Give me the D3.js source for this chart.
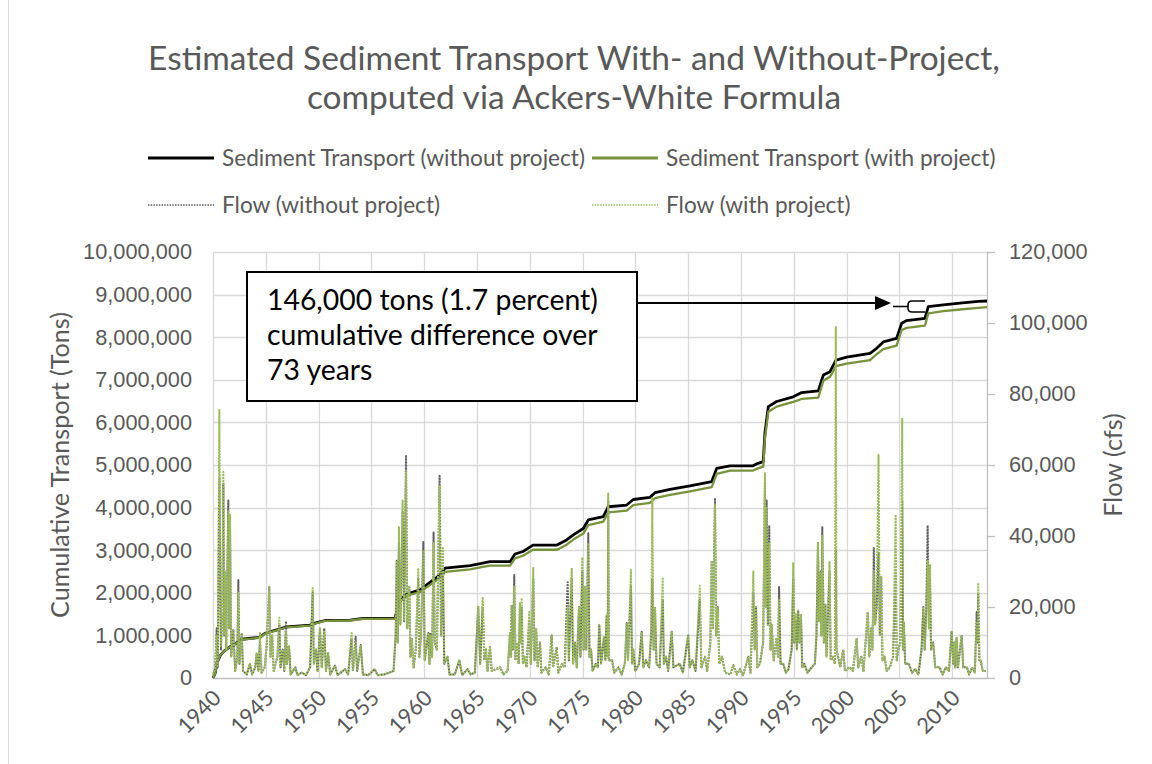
<!DOCTYPE html>
<html>
<head>
<meta charset="utf-8">
<script src="https://cdn.jsdelivr.net/npm/d3@7"></script>
<style>
  html, body { margin: 0; padding: 0; background: #fff; }
  svg { display: block; font-family: Lato, "Open Sans", sans-serif; }
</style>
</head>
<body>
<svg id="chart" width="1152" height="764"></svg>
<script>
// ---------- data ----------
const titleLines = [
  "Estimated Sediment Transport With- and Without-Project,",
  "computed via Ackers-White Formula"
];
const seriesNames = [
  "Sediment Transport (without project)",
  "Sediment Transport (with project)",
  "Flow (without project)",
  "Flow (with project)"
];
const leftAxisTitle = "Cumulative Transport (Tons)";
const rightAxisTitle = "Flow (cfs)";
const noteLines = ["146,000 tons (1.7 percent)", "cumulative difference over", "73 years"];

const yearTicks = [1940, 1945, 1950, 1955, 1960, 1965, 1970, 1975, 1980, 1985, 1990, 1995, 2000, 2005, 2010];
const transportTicks = [0, 1000000, 2000000, 3000000, 4000000, 5000000, 6000000, 7000000, 8000000, 9000000, 10000000];
const flowTicks = [0, 20000, 40000, 60000, 80000, 100000, 120000];

// cumulative sediment transport (tons)
const transportYears = [
  1940.00, 1940.19, 1940.38, 1940.66, 1941.04, 1941.52, 1941.92, 1942.72, 1944.45, 1944.92,
  1946.03, 1946.98, 1949.19, 1949.82, 1950.61, 1952.97, 1954.23, 1957.23, 1957.71, 1958.34,
  1959.60, 1961.50, 1961.97, 1964.34, 1965.44, 1966.23, 1968.13, 1968.60, 1969.36, 1970.30,
  1972.58, 1973.49, 1974.12, 1975.07, 1975.54, 1976.96, 1977.43, 1979.18, 1979.80, 1981.38,
  1981.86, 1983.28, 1985.17, 1987.23, 1987.70, 1988.96, 1991.14, 1991.61, 1992.11, 1992.27,
  1992.59, 1993.38, 1994.95, 1995.75, 1997.32, 1997.80, 1998.43, 1999.00, 2000.01, 2002.22,
  2002.85, 2003.48, 2004.74, 2005.22, 2005.69, 2007.42, 2007.74, 2009.16, 2010.74, 2012.47,
  2013.30
];
const transportWithout = [
  0, 100000, 350000, 520000, 630000, 720000, 770000, 910000, 955000, 1050000,
  1130000, 1200000, 1240000, 1300000, 1350000, 1360000, 1400000, 1400000, 1830000, 1970000,
  2070000, 2420000, 2580000, 2640000, 2690000, 2730000, 2730000, 2910000, 2970000, 3120000,
  3120000, 3240000, 3360000, 3510000, 3710000, 3790000, 4020000, 4060000, 4190000, 4240000,
  4350000, 4430000, 4510000, 4610000, 4920000, 4980000, 4980000, 5040000, 5080000, 5750000,
  6370000, 6490000, 6600000, 6700000, 6740000, 7110000, 7190000, 7460000, 7530000, 7620000,
  7740000, 7890000, 7970000, 8330000, 8390000, 8440000, 8720000, 8760000, 8800000, 8840000,
  8850000
];
const transportWith = [
  0, 100000, 350000, 520000, 630000, 720000, 770000, 900000, 945000, 1040000,
  1120000, 1190000, 1230000, 1290000, 1340000, 1350000, 1390000, 1390000, 1800000, 1930000,
  2020000, 2350000, 2490000, 2550000, 2600000, 2640000, 2640000, 2810000, 2870000, 3010000,
  3010000, 3130000, 3250000, 3390000, 3590000, 3670000, 3890000, 3930000, 4060000, 4110000,
  4220000, 4300000, 4380000, 4480000, 4790000, 4870000, 4870000, 4920000, 4960000, 5620000,
  6250000, 6370000, 6480000, 6550000, 6580000, 6980000, 7070000, 7320000, 7380000, 7460000,
  7600000, 7720000, 7800000, 8170000, 8220000, 8270000, 8560000, 8610000, 8650000, 8690000,
  8704000
];

// river flow, thousands of cfs
const flowYears = [
  // 1940s
  1940.00,1940.20,1940.35,1940.45,1940.60,1940.75,1940.90,1940.98,1941.06,1941.14,1941.25,1941.45,1941.53,1941.61,1941.72,1941.92,1942.10,1942.30,1942.40,1942.50,1942.72,1942.85,1943.20,1943.50,1943.70,1944.00,1944.14,1944.30,1944.45,1944.60,1944.90,1945.10,1945.33,1945.45,1945.60,1945.75,1946.10,1946.28,1946.40,1946.60,1946.75,1946.91,1947.00,1947.20,1947.35,1947.80,1948.00,1948.40,1948.80,1949.20,1949.44,1949.55,1949.75,1949.90,
  // 1950s
  1950.13,1950.30,1950.54,1950.70,1950.90,1951.10,1951.55,1951.80,1952.50,1952.80,1953.13,1953.25,1953.51,1953.65,1953.99,1954.20,1954.70,1955.30,1955.60,1956.20,1956.70,1957.10,1957.30,1957.40,1957.50,1957.61,1957.75,1957.96,1958.10,1958.28,1958.40,1958.59,1958.70,1958.82,1959.00,1959.20,1959.44,1959.55,1959.70,1959.92,
  // 1960s
  1960.05,1960.39,1960.50,1960.60,1960.75,1960.89,1961.00,1961.20,1961.46,1961.60,1961.77,1961.90,1962.20,1962.40,1962.90,1963.32,1963.60,1964.10,1964.40,1964.80,1965.12,1965.30,1965.54,1965.70,1965.85,1966.00,1966.23,1966.40,1967.20,1967.50,1967.90,1968.13,1968.20,1968.29,1968.40,1968.53,1968.65,1968.80,1968.95,1969.07,1969.15,1969.23,1969.35,1969.50,1969.70,1969.95,
  // 1970s
  1970.10,1970.33,1970.45,1970.60,1970.75,1970.97,1971.10,1971.50,1971.80,1972.07,1972.20,1972.55,1972.70,1973.05,1973.30,1973.59,1973.70,1973.97,1974.10,1974.28,1974.45,1974.66,1974.80,1974.97,1975.10,1975.23,1975.35,1975.54,1975.65,1975.80,1975.95,1976.25,1976.45,1976.58,1976.75,1977.03,1977.15,1977.28,1977.38,1977.43,1977.48,1977.80,1978.00,1978.40,1978.70,1979.00,1979.18,1979.30,1979.58,1979.68,1979.80,
  // 1980s
  1980.00,1980.35,1980.60,1980.75,1981.00,1981.30,1981.50,1981.60,1981.72,1981.86,1982.00,1982.30,1982.59,1982.70,1982.90,1983.10,1983.44,1983.60,1984.20,1984.50,1985.00,1985.15,1985.40,1985.70,1986.10,1986.25,1986.60,1986.80,1987.10,1987.23,1987.35,1987.54,1987.65,1987.80,1987.95,1988.20,1988.50,1989.00,1989.27,1989.60,1989.90,
  // 1990s
  1990.20,1990.70,1990.90,1991.17,1991.30,1991.43,1991.55,1991.80,1992.10,1992.27,1992.35,1992.43,1992.55,1992.68,1992.80,1992.90,1993.10,1993.36,1993.50,1993.61,1993.75,1994.00,1994.25,1994.50,1994.80,1994.95,1995.05,1995.20,1995.30,1995.42,1995.55,1995.68,1995.80,1996.00,1996.30,1996.70,1997.00,1997.15,1997.29,1997.40,1997.55,1997.62,1997.70,1997.85,1997.99,1998.10,1998.39,1998.50,1998.70,1998.90,1998.98,1999.05,1999.20,1999.40,1999.68,1999.85,
  // 2000s
  2000.30,2000.60,2000.95,2001.10,2001.40,2001.60,2002.01,2002.15,2002.35,2002.45,2002.58,2002.70,2002.85,2003.03,2003.15,2003.28,2003.40,2003.60,2003.80,2004.10,2004.40,2004.65,2004.75,2004.90,2005.10,2005.27,2005.35,2005.42,2005.55,2005.90,2006.20,2006.50,2006.80,2007.10,2007.27,2007.40,2007.55,2007.68,2007.80,2007.90,2008.00,2008.20,2008.40,2008.80,2009.10,2009.40,2009.70,2009.95,
  // 2010s
  2010.10,2010.20,2010.30,2010.42,2010.55,2010.90,2011.05,2011.40,2011.60,2011.90,2012.15,2012.32,2012.40,2012.47,2012.58,2012.70,2012.90,2013.20
];
const flowWithoutK = [
  1,2.5,14,3,56,8,20,55,12,30,8,50,14,44,6,13.5,2,6,27.6,4,12.7,2,1,4,1,3,7,2,10,1.5,3,10,25.6,6,12,2,6,15,3,8,2,16,4,9,1,3,0.8,1.5,0.8,3,24,4,8,2,
  14,3,14,2,7,1,3.5,0.8,2.5,1,11,2,11.6,2,9.3,1,0.8,2.5,0.8,1,1.5,2,12,33,10,38,15,47,16,62.8,14,25.6,6,11.3,3,8,28,6,12,38.3,
  5,12.7,4,12.7,6,41,10,8,57,12,30,4,6,1,1,5,0.8,2.5,1,1.5,20,4,20,5,8,2,8.7,2,3,1,2,12.7,6,20.6,8,29,5,10,4,21,10,20,4,6,3,16,
  4,28,5,14,3,10,1.5,3,1,12,3,8.7,1.5,4,3,27,5,28,4,10,3,20,6,30,8,26,8,40.8,6,8,2,4,3,15,4,11.6,5,17.7,6,50,5,5,1.5,3,1,4,15.5,5,26,4,8,
  2,4,13,3,5,3,12,28,8,19.7,4,3,22,4,6,2,13,3,4,1.5,12,3,5,2,22,3,6,2,10,33,14,50.7,12,20,4,6,1.5,1,3.6,1,2.5,
  0.8,6,1.5,24,8,20,3,4,10,55,20,50,15,43,8,15,5,11,6,25.6,4,4,1.5,2.5,8,28,10,16,8,19,10,17.7,3,4,1.5,3,4,12,38,16,30,12,42.5,10,20.6,6,30,5,6,4,36,8,6,3,8,2,
  3,2,11,3,6,2,18.6,6,14,8,36.6,15,20,35,12,28.5,5,6,2,3,6,30,5,8,10,50,8,15.8,4,4,1.5,2.5,1,8,20,8,20,43,14,28,8,10,3,3,1,3,2,13,
  4,10,3,11.3,3,12,3,3,1,3,1.5,18.6,10,24,5,5,2,2
];
const flowWithK = [
  1,2.5,12,3,75.5,9,22,58,12,30,8,47,14,46,6,13.5,2,5,24,4,12,2,1,4,1,3,7,2,12.7,1.5,3,10,25.6,6,12,2,6,17,3,8,2,13,4,9,1,3,0.8,1.5,0.8,3,25.3,4,8,2,
  14,3,13,2,7,1,3.5,0.8,2.5,1,13,2,10,2,9,1,0.8,2.5,0.8,1,1.5,2,12,33,10,42.5,15,50,16,58,14,25.6,6,11.3,3,8,31,6,12,36,
  5,12.7,4,12,6,38,10,8,54,12,36.6,4,6,1,1,5,0.8,2.5,1,1.5,20,4,22.8,5,8,2,8.7,2,3,1,2,12.7,6,20.6,8,26,5,10,4,21,10,22.5,4,6,3,18.6,
  4,31,5,14,3,10,1.5,3,1,12,3,8.7,1.5,4,3,20,5,31,4,10,3,20,6,34,8,26,8,38,6,8,2,4,3,15,4,11.6,5,17.7,6,52,5,5,1.5,3,1,4,15.5,5,30.4,4,8,
  2,4,13,3,5,3,14,50.7,8,19.7,4,3,28,4,6,2,13,3,4,1.5,12,3,5,2,26,3,6,2,10,33,14,49,12,20,4,6,1.5,1,3.6,1,2.5,
  0.8,6,1.5,30,8,20,3,4,10,57.7,20,48,15,38,8,15,5,11,6,22,4,4,1.5,2.5,8,32.4,10,18,8,19,10,17.7,3,4,1.5,3,4,12,38,16,30,12,40,10,20.6,6,32.7,5,6,4,98.9,8,6,3,8,2,
  3,2,11,3,6,2,18.6,6,14,8,30,15,20,62.8,12,28.5,5,6,2,3,6,46,5,8,10,73,8,15.8,4,4,1.5,2.5,1,8,20,8,18,33,14,31.8,8,10,3,3,1,3,2,13,
  4,10,3,11.3,3,12,3,3,1,3,1.5,16,10,26.8,5,5,2,2
];

// ---------- layout & styles ----------
const plot = { left: 213, right: 987, top: 252, bottom: 678 };
const textColor = "#595959";
const gridColor = "#d9d9d9";
const axisColor = "#bfbfbf";
const colors = { blackLine: "#000000", greenLine: "#77933c", grayFlow: "#5f5f5f", greenFlow: "#9bbb59" };

const svg = d3.select("#chart");
svg.append("rect").attr("width", 1152).attr("height", 764).attr("fill", "#fff");
// chart-area frame edge
svg.append("line").attr("x1", 8.5).attr("x2", 8.5).attr("y1", 0).attr("y2", 764)
  .attr("stroke", gridColor).attr("stroke-width", 1);

const x = d3.scaleLinear().domain([1940, 2013.3]).range([plot.left, plot.right]);
const y = d3.scaleLinear().domain([0, 10000000]).range([plot.bottom, plot.top]);
const y2 = d3.scaleLinear().domain([0, 120000]).range([plot.bottom, plot.top]);

// resize labels so a reference label spans the given width
function fitGroup(sel, refNode, target) {
  const fs = parseFloat(refNode.getAttribute("font-size"));
  const size = fs * target / refNode.getComputedTextLength();
  sel.attr("font-size", size.toFixed(2));
}

// ---------- title ----------
const title = svg.append("g").attr("fill", textColor).attr("text-anchor", "middle");
const titleText = title.selectAll("text").data(titleLines).join("text")
  .attr("x", 574).attr("y", (d, i) => 70 + i * 39)
  .attr("font-size", 30).text(d => d);
fitGroup(titleText, titleText.nodes()[0], 852);

// ---------- legend ----------
const legendItems = [
  { name: seriesNames[0], color: colors.blackLine, width: 2.8, dash: null, x: 148, y: 158 },
  { name: seriesNames[1], color: colors.greenLine, width: 2.8, dash: null, x: 592, y: 158 },
  { name: seriesNames[2], color: colors.grayFlow, width: 1.3, dash: "1.5,1.2", x: 148, y: 205 },
  { name: seriesNames[3], color: colors.greenFlow, width: 1.3, dash: "1.5,1.2", x: 592, y: 205 }
];
const legend = svg.append("g");
const lg = legend.selectAll("g").data(legendItems).join("g")
  .attr("transform", d => `translate(${d.x},${d.y})`);
lg.append("line").attr("x1", 0).attr("x2", 66).attr("y1", 0).attr("y2", 0)
  .attr("stroke", d => d.color).attr("stroke-width", d => d.width)
  .attr("stroke-dasharray", d => d.dash);
const legendText = lg.append("text").attr("x", 74).attr("dy", "0.35em")
  .attr("fill", textColor).attr("font-size", 20).text(d => d.name);
fitGroup(legendText, legendText.nodes()[0], 363);

// ---------- grid ----------
const grid = svg.append("g").attr("stroke", gridColor).attr("stroke-width", 1.3);
grid.selectAll("line.h").data(transportTicks.slice(1)).join("line").attr("class", "h")
  .attr("x1", plot.left).attr("x2", plot.right)
  .attr("y1", d => Math.round(y(d)) + 0.5).attr("y2", d => Math.round(y(d)) + 0.5);
grid.selectAll("line.v").data(yearTicks).join("line").attr("class", "v")
  .attr("x1", d => Math.round(x(d)) + 0.5).attr("x2", d => Math.round(x(d)) + 0.5)
  .attr("y1", plot.top).attr("y2", plot.bottom);

// ---------- axes ----------
const leftAxis = svg.append("g").attr("transform", `translate(${plot.left},0)`)
  .call(d3.axisLeft(y).tickValues(transportTicks).tickSize(0).tickPadding(21).tickFormat(d3.format(",")));
leftAxis.select(".domain").remove();
const leftLabels = leftAxis.selectAll("text").attr("fill", textColor).attr("font-family", null).attr("font-size", 22);
fitGroup(leftLabels, leftLabels.nodes()[leftLabels.size() - 1], 109);

const rightAxis = svg.append("g").attr("transform", `translate(${plot.right},0)`)
  .call(d3.axisRight(y2).tickValues(flowTicks).tickSize(8).tickSizeOuter(0).tickPadding(14).tickFormat(d3.format(",")));
rightAxis.select(".domain").attr("stroke", axisColor).attr("stroke-width", 1.3);
rightAxis.selectAll(".tick line").attr("stroke", axisColor).attr("stroke-width", 1.3);
const rightLabels = rightAxis.selectAll("text").attr("fill", textColor).attr("font-family", null);
rightLabels.attr("font-size", leftLabels.attr("font-size"));

// bottom axis line and rotated year labels
svg.append("line").attr("x1", plot.left).attr("x2", plot.right)
  .attr("y1", plot.bottom + 0.5).attr("y2", plot.bottom + 0.5)
  .attr("stroke", axisColor).attr("stroke-width", 1.3);
svg.append("g").selectAll("text").data(yearTicks).join("text")
  .attr("text-anchor", "end").attr("dy", "0.35em")
  .attr("transform", d => `translate(${x(d) + 4},${plot.bottom + 16}) rotate(-45)`)
  .attr("fill", textColor).attr("font-size", leftLabels.attr("font-size")).text(d => d);

// axis titles
const lt = svg.append("text").attr("transform", `translate(60,${(plot.top + plot.bottom) / 2}) rotate(-90)`)
  .attr("text-anchor", "middle").attr("dy", "0.35em").attr("fill", textColor).attr("font-size", 22)
  .text(leftAxisTitle);
fitGroup(lt, lt.node(), 306);
svg.append("text").attr("transform", `translate(1113,${(plot.top + plot.bottom) / 2}) rotate(-90)`)
  .attr("text-anchor", "middle").attr("dy", "0.35em").attr("fill", textColor).attr("font-size", lt.attr("font-size"))
  .text(rightAxisTitle);

// ---------- series ----------
const transportIdx = d3.range(Math.min(transportYears.length, transportWithout.length, transportWith.length));
const flowIdx = d3.range(Math.min(flowYears.length, flowWithoutK.length, flowWithK.length));

const transportLine = vals => d3.line().x(i => x(transportYears[i])).y(i => y(vals[i]));
const flowLine = vals => d3.line().x(i => x(flowYears[i])).y(i => y2(vals[i] * 1000));

const series = svg.append("g").attr("fill", "none").attr("stroke-linejoin", "round");
series.append("path").datum(transportIdx).attr("d", transportLine(transportWithout))
  .attr("stroke", colors.blackLine).attr("stroke-width", 2.8);
series.append("path").datum(transportIdx).attr("d", transportLine(transportWith))
  .attr("stroke", colors.greenLine).attr("stroke-width", 2.3);
series.append("path").datum(flowIdx).attr("d", flowLine(flowWithoutK))
  .attr("stroke", colors.grayFlow).attr("stroke-width", 2).attr("stroke-dasharray", "2,1");
series.append("path").datum(flowIdx).attr("d", flowLine(flowWithK))
  .attr("stroke", colors.greenFlow).attr("stroke-width", 2).attr("stroke-dasharray", "2,1");

// ---------- annotation ----------
const note = svg.append("g");
note.append("rect").attr("x", 247).attr("y", 272).attr("width", 390).attr("height", 129)
  .attr("fill", "#fff").attr("stroke", "#000").attr("stroke-width", 2);
const noteText = note.selectAll("text").data(noteLines).join("text")
  .attr("x", 267).attr("y", (d, i) => 310 + i * 35)
  .attr("fill", "#000").attr("font-size", 24).text(d => d);
fitGroup(noteText, noteText.nodes()[0], 331);

// arrow from the note toward the end of the curves
note.append("line").attr("x1", 637).attr("x2", 877).attr("y1", 303).attr("y2", 303)
  .attr("stroke", "#000").attr("stroke-width", 1.8);
note.append("path").attr("d", "M875,296 L891,303 L875,310 Z").attr("fill", "#000");
// bracket spanning the gap between the two cumulative curves
note.append("path")
  .attr("d", "M893,306.5 H908 M925,301 H912 Q908,301 908,305 V308 Q908,312 912,312 H925")
  .attr("fill", "none").attr("stroke", "#000").attr("stroke-width", 1.6);
</script>
</body>
</html>
